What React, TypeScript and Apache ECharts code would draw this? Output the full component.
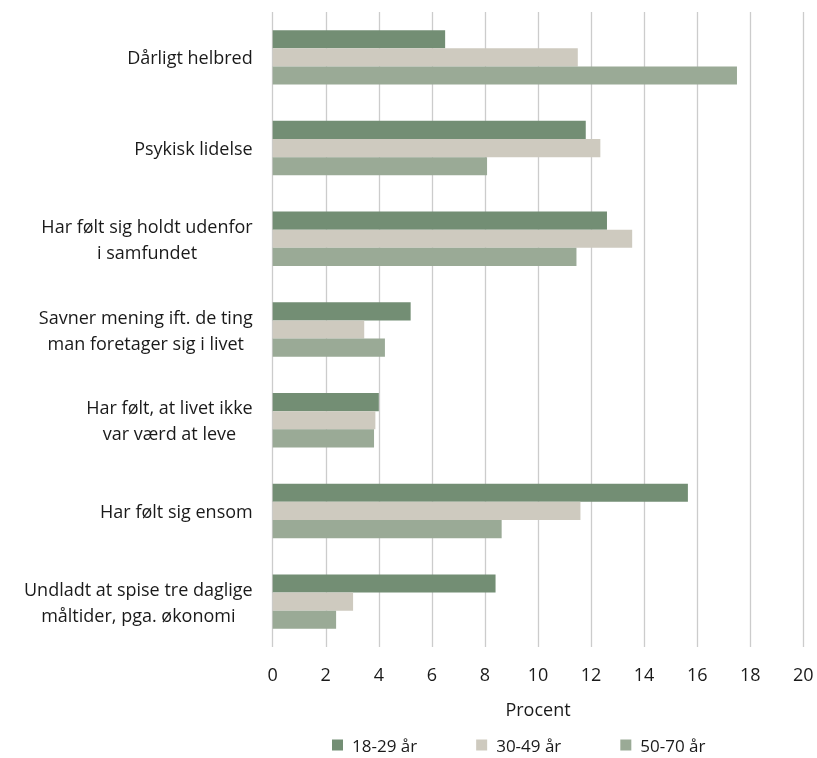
import React, { useEffect, useRef } from "react";
import * as echarts from "echarts";

// Survey categories (top to bottom)
const categories: string[] = [
  "Dårligt helbred",
  "Psykisk lidelse",
  "Har følt sig holdt udenfor\ni samfundet",
  "Savner mening ift. de ting\nman foretager sig i livet",
  "Har følt, at livet ikke\nvar værd at leve",
  "Har følt sig ensom",
  "Undladt at spise tre daglige\nmåltider, pga. økonomi",
];

const seriesNames: string[] = ["18-29 år", "30-49 år", "50-70 år"];

// Percent per age group, in category order
const age18to29: number[] = [6.5, 11.8, 12.6, 5.2, 4.0, 15.65, 8.4];
const age30to49: number[] = [11.5, 12.35, 13.55, 3.45, 3.87, 11.6, 3.03];
const age50to70: number[] = [17.5, 8.08, 11.45, 4.23, 3.82, 8.63, 2.39];

const xTicks = { min: 0, max: 20, interval: 2 };

const colors = ["#738e74", "#cecabf", "#9aaa96"];
const FONT = "'Open Sans', Roboto, sans-serif";
const TEXT = "#1a1a1a";

export default function App() {
  const ref = useRef<HTMLDivElement>(null);

  useEffect(() => {
    if (!ref.current) return;
    const chart = echarts.init(ref.current, undefined, { renderer: "svg" });
    const values = [age18to29, age30to49, age50to70];

    chart.setOption({
      animation: false,
      textStyle: { fontFamily: FONT, color: TEXT },
      grid: { left: 272.7, right: 13.7, top: 12, bottom: 111 },
      legend: {
        left: 327,
        top: 731,
        padding: [5, 5, 0, 5],
        icon: "rect",
        itemWidth: 11,
        itemHeight: 11,
        itemGap: 59,
        textStyle: {
          fontFamily: FONT,
          fontSize: 17,
          lineHeight: 18,
          color: TEXT,
          padding: [0, 0, 0, 4],
        },
        data: seriesNames,
      },
      xAxis: {
        type: "value",
        min: xTicks.min,
        max: xTicks.max,
        interval: xTicks.interval,
        name: "Procent",
        nameLocation: "middle",
        nameGap: 53,
        nameTextStyle: { fontFamily: FONT, fontSize: 18, color: TEXT },
        axisLine: { show: false },
        axisTick: { show: false },
        axisLabel: { fontFamily: FONT, fontSize: 18, color: TEXT, margin: 18 },
        splitLine: { show: true, lineStyle: { color: "#cccccc", width: 1.3 } },
      },
      yAxis: {
        type: "category",
        data: categories,
        inverse: true,
        axisLine: { show: false },
        axisTick: { show: false },
        axisLabel: {
          margin: 20,
          align: "right",
          formatter: (v: string) =>
            v
              .split("\n")
              .map((l) => `{c|${l}}`)
              .join("\n"),
          rich: {
            c: { align: "center", fontFamily: FONT, fontSize: 18, color: TEXT, lineHeight: 26 },
          },
        },
      },
      series: seriesNames.map((name, i) => ({
        name,
        type: "bar",
        data: values[i],
        barGap: "0%",
        barCategoryGap: "40%",
        itemStyle: { color: colors[i] },
      })),
    });

    return () => chart.dispose();
  }, []);

  return (
    <div
      ref={ref}
      style={{ position: "fixed", left: 0, top: 0, width: 817, height: 758 }}
    />
  );
}
